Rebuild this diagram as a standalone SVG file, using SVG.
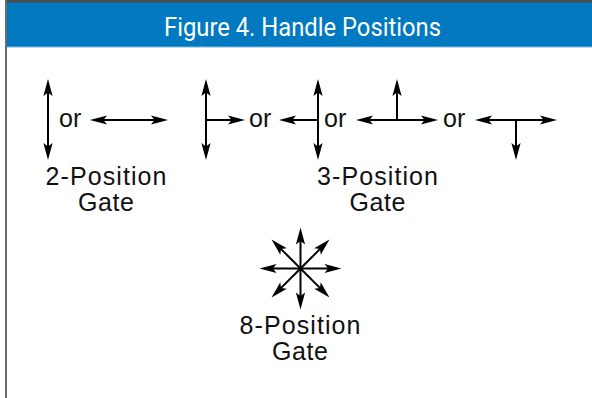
<svg xmlns="http://www.w3.org/2000/svg" width="592" height="398" viewBox="0 0 592 398">
<style>
.lbl{font-family:"Liberation Sans",Arial,sans-serif;font-size:25px;fill:#111;text-anchor:middle}
.or{font-family:"Liberation Sans",Arial,sans-serif;font-size:25px;fill:#111}
.title{font-family:Roboto,"Liberation Sans",sans-serif;font-size:26px;fill:#fff}
.ln{stroke:#000;stroke-width:2;fill:none}
</style>
<defs>
<marker id="ah" markerUnits="userSpaceOnUse" markerWidth="30" markerHeight="30" refX="0" refY="0" viewBox="-10 -10 30 20" orient="auto-start-reverse" overflow="visible">
<path d="M10,0 L-7,-4.6 L-3.4,0 L-7,4.6 Z" fill="#000"/>
</marker>
</defs>
<rect x="0" y="0" width="592" height="398" fill="#fff"/>
<g id="header">
<rect x="6" y="2" width="586" height="45" fill="#0079c1"/>
<line x1="6" y1="47" x2="592" y2="47" stroke="#7fb8e0" stroke-width="1"/>
<rect x="5" y="0" width="587" height="2.5" fill="#4d4d4d"/>
<rect x="5" y="0" width="2" height="398" fill="#6a6a6a"/>
<text class="title" x="164" y="35.5" textLength="277" lengthAdjust="spacingAndGlyphs">Figure 4. Handle Positions</text>
</g>
<g id="connectors">
<!-- 2-position -->
<line class="ln" x1="48" y1="89" x2="48" y2="150" marker-start="url(#ah)" marker-end="url(#ah)"/>
<line class="ln" x1="100" y1="120" x2="158" y2="120" marker-start="url(#ah)" marker-end="url(#ah)"/>
<!-- 3-position T1 -->
<line class="ln" x1="206" y1="89" x2="206" y2="150" marker-start="url(#ah)" marker-end="url(#ah)"/>
<line class="ln" x1="206" y1="120" x2="235" y2="120" marker-end="url(#ah)"/>
<!-- T2 -->
<line class="ln" x1="318" y1="89" x2="318" y2="150" marker-start="url(#ah)" marker-end="url(#ah)"/>
<line class="ln" x1="318" y1="120" x2="289" y2="120" marker-end="url(#ah)"/>
<!-- T3 -->
<line class="ln" x1="366" y1="120" x2="428" y2="120" marker-start="url(#ah)" marker-end="url(#ah)"/>
<line class="ln" x1="397" y1="120" x2="397" y2="89" marker-end="url(#ah)"/>
<!-- T4 -->
<line class="ln" x1="485" y1="120" x2="547" y2="120" marker-start="url(#ah)" marker-end="url(#ah)"/>
<line class="ln" x1="516" y1="120" x2="516" y2="150" marker-end="url(#ah)"/>
<!-- 8-position star, center 300.5,268.5 r=41 (lines to r-10) -->
<g transform="translate(300.5,268.5)">
<line class="ln" x1="0" y1="0" x2="31" y2="0" marker-end="url(#ah)"/>
<line class="ln" x1="0" y1="0" x2="-31" y2="0" marker-end="url(#ah)"/>
<line class="ln" x1="0" y1="0" x2="0" y2="31" marker-end="url(#ah)"/>
<line class="ln" x1="0" y1="0" x2="0" y2="-31" marker-end="url(#ah)"/>
<line class="ln" x1="0" y1="0" x2="21.9" y2="21.9" marker-end="url(#ah)"/>
<line class="ln" x1="0" y1="0" x2="-21.9" y2="21.9" marker-end="url(#ah)"/>
<line class="ln" x1="0" y1="0" x2="21.9" y2="-21.9" marker-end="url(#ah)"/>
<line class="ln" x1="0" y1="0" x2="-21.9" y2="-21.9" marker-end="url(#ah)"/>
</g>
</g>
<g id="or-labels">
<text class="or" x="59" y="127">or</text>
<text class="or" x="249" y="127">or</text>
<text class="or" x="324" y="127">or</text>
<text class="or" x="443" y="127">or</text>
</g>
<g id="node-2pos">
<text class="lbl" x="106" y="185" textLength="121" lengthAdjust="spacing">2-Position</text>
<text class="lbl" x="106" y="211" textLength="56" lengthAdjust="spacing">Gate</text>
</g>
<g id="node-3pos">
<text class="lbl" x="377.5" y="185" textLength="121" lengthAdjust="spacing">3-Position</text>
<text class="lbl" x="377.5" y="211" textLength="56" lengthAdjust="spacing">Gate</text>
</g>
<g id="node-8pos">
<text class="lbl" x="300" y="334" textLength="121" lengthAdjust="spacing">8-Position</text>
<text class="lbl" x="300" y="360" textLength="56" lengthAdjust="spacing">Gate</text>
</g>
</svg>
